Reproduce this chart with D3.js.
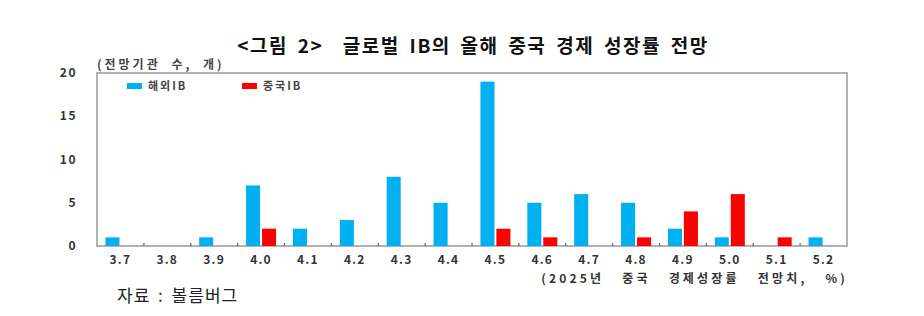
<!DOCTYPE html>
<html>
<head>
<meta charset="utf-8">
<script src="https://cdn.jsdelivr.net/npm/d3@7"></script>
<style>
  body { margin: 0; background: #fff; }
  svg { display: block; font-family: "Noto Sans CJK KR", "Noto Sans", sans-serif; }
</style>
</head>
<body>
<svg id="chart" width="924" height="316"></svg>
<script>
// 2025 china growth forecast, count of institutions
const rates = ["3.7","3.8","3.9","4.0","4.1","4.2","4.3","4.4","4.5","4.6","4.7","4.8","4.9","5.0","5.1","5.2"]
const foreignIB = [1,0,1,7,2,3,8,5,19,5,6,5,2,1,0,1]
const chinaIB = [0,0,0,2,0,0,0,0,2,1,0,1,4,6,1,0]
const seriesNames = ["해외IB","중국IB"]
const seriesColors = ["#00B0F0","#FF0000"]
const yTicks = [0,5,10,15,20]

const svg = d3.select("#chart")

const plotLeft = 97, plotRight = 847, plotTop = 73, plotBottom = 246

const x0 = d3.scaleBand().domain(rates).range([plotLeft, plotRight]).paddingInner(0.36).paddingOuter(0.18)
const x1 = d3.scaleBand().domain(seriesNames).range([0, x0.bandwidth()]).paddingInner(0.12)
const y = d3.scaleLinear().domain([0, 20]).range([plotBottom, plotTop])

// title
svg.append("text")
  .attr("x", 473).attr("y", 53)
  .attr("text-anchor", "middle")
  .attr("font-size", 19).attr("font-weight", "bold")
  .attr("letter-spacing", 1.5).attr("word-spacing", 4)
  .attr("fill", "#111")
  .attr("xml:space", "preserve")
  .text("<그림 2>  글로벌 IB의 올해 중국 경제 성장률 전망")

// unit label
svg.append("text")
  .attr("x", 97).attr("y", 69)
  .attr("font-size", 12).attr("font-weight", "bold")
  .attr("letter-spacing", 3).attr("word-spacing", 5)
  .attr("fill", "#444")
  .text("(전망기관 수, 개)")

// frame
svg.append("rect")
  .attr("x", plotLeft).attr("y", plotTop)
  .attr("width", plotRight - plotLeft).attr("height", plotBottom - plotTop)
  .attr("fill", "none").attr("stroke", "#999").attr("stroke-width", 1.5)

// y axis labels
svg.append("g").selectAll("text")
  .data(yTicks)
  .enter().append("text")
  .attr("x", 77).attr("y", d => y(d) + 4)
  .attr("text-anchor", "end")
  .attr("font-size", 12).attr("font-weight", "bold")
  .attr("letter-spacing", 1.5)
  .attr("fill", "#333")
  .text(d => d)

// small ticks at band boundaries
const step = x0.step()
svg.append("g").selectAll("line")
  .data(rates.slice(1))
  .enter().append("line")
  .attr("x1", d => x0(d) - x0.paddingInner() * step / 2)
  .attr("x2", d => x0(d) - x0.paddingInner() * step / 2)
  .attr("y1", plotBottom).attr("y2", plotBottom - 3)
  .attr("stroke", "#666").attr("stroke-width", 1.2)

// bars
const rows = rates.map((r, i) => ({ rate: r, values: [foreignIB[i], chinaIB[i]] }))
const groups = svg.append("g").selectAll("g")
  .data(rows)
  .enter().append("g")
  .attr("transform", d => `translate(${x0(d.rate)},0)`)

groups.selectAll("rect")
  .data(d => d.values.map((v, k) => ({ name: seriesNames[k], value: v, color: seriesColors[k] })))
  .enter().append("rect")
  .attr("x", d => x1(d.name))
  .attr("y", d => y(d.value))
  .attr("width", x1.bandwidth())
  .attr("height", d => plotBottom - y(d.value))
  .attr("fill", d => d.color)

// x labels
svg.append("g").selectAll("text")
  .data(rates)
  .enter().append("text")
  .attr("x", d => x0(d) + x0.bandwidth() / 2)
  .attr("y", 264)
  .attr("text-anchor", "middle")
  .attr("font-size", 12).attr("font-weight", "bold")
  .attr("letter-spacing", 1.2)
  .attr("fill", "#333")
  .text(d => d)

// x axis title
svg.append("text")
  .attr("x", 848).attr("y", 283)
  .attr("text-anchor", "end")
  .attr("font-size", 12).attr("font-weight", "bold")
  .attr("letter-spacing", 3.2).attr("word-spacing", 12)
  .attr("fill", "#333")
  .text("(2025년 중국 경제성장률 전망치, %)")

// legend
const legend = svg.append("g").selectAll("g")
  .data(seriesNames)
  .enter().append("g")
  .attr("transform", (d, i) => `translate(${127 + i * 115},83)`)
legend.append("rect")
  .attr("width", 15).attr("height", 6)
  .attr("fill", (d, i) => seriesColors[i])
legend.append("text")
  .attr("x", 21).attr("y", 7)
  .attr("font-size", 11).attr("font-weight", "bold")
  .attr("letter-spacing", 2)
  .attr("fill", "#444")
  .text(d => d)

// source
svg.append("text")
  .attr("x", 117).attr("y", 302)
  .attr("font-size", 17)
  .attr("letter-spacing", 1).attr("word-spacing", 3)
  .attr("fill", "#222")
  .text("자료 : 볼름버그")
</script>
</body>
</html>
